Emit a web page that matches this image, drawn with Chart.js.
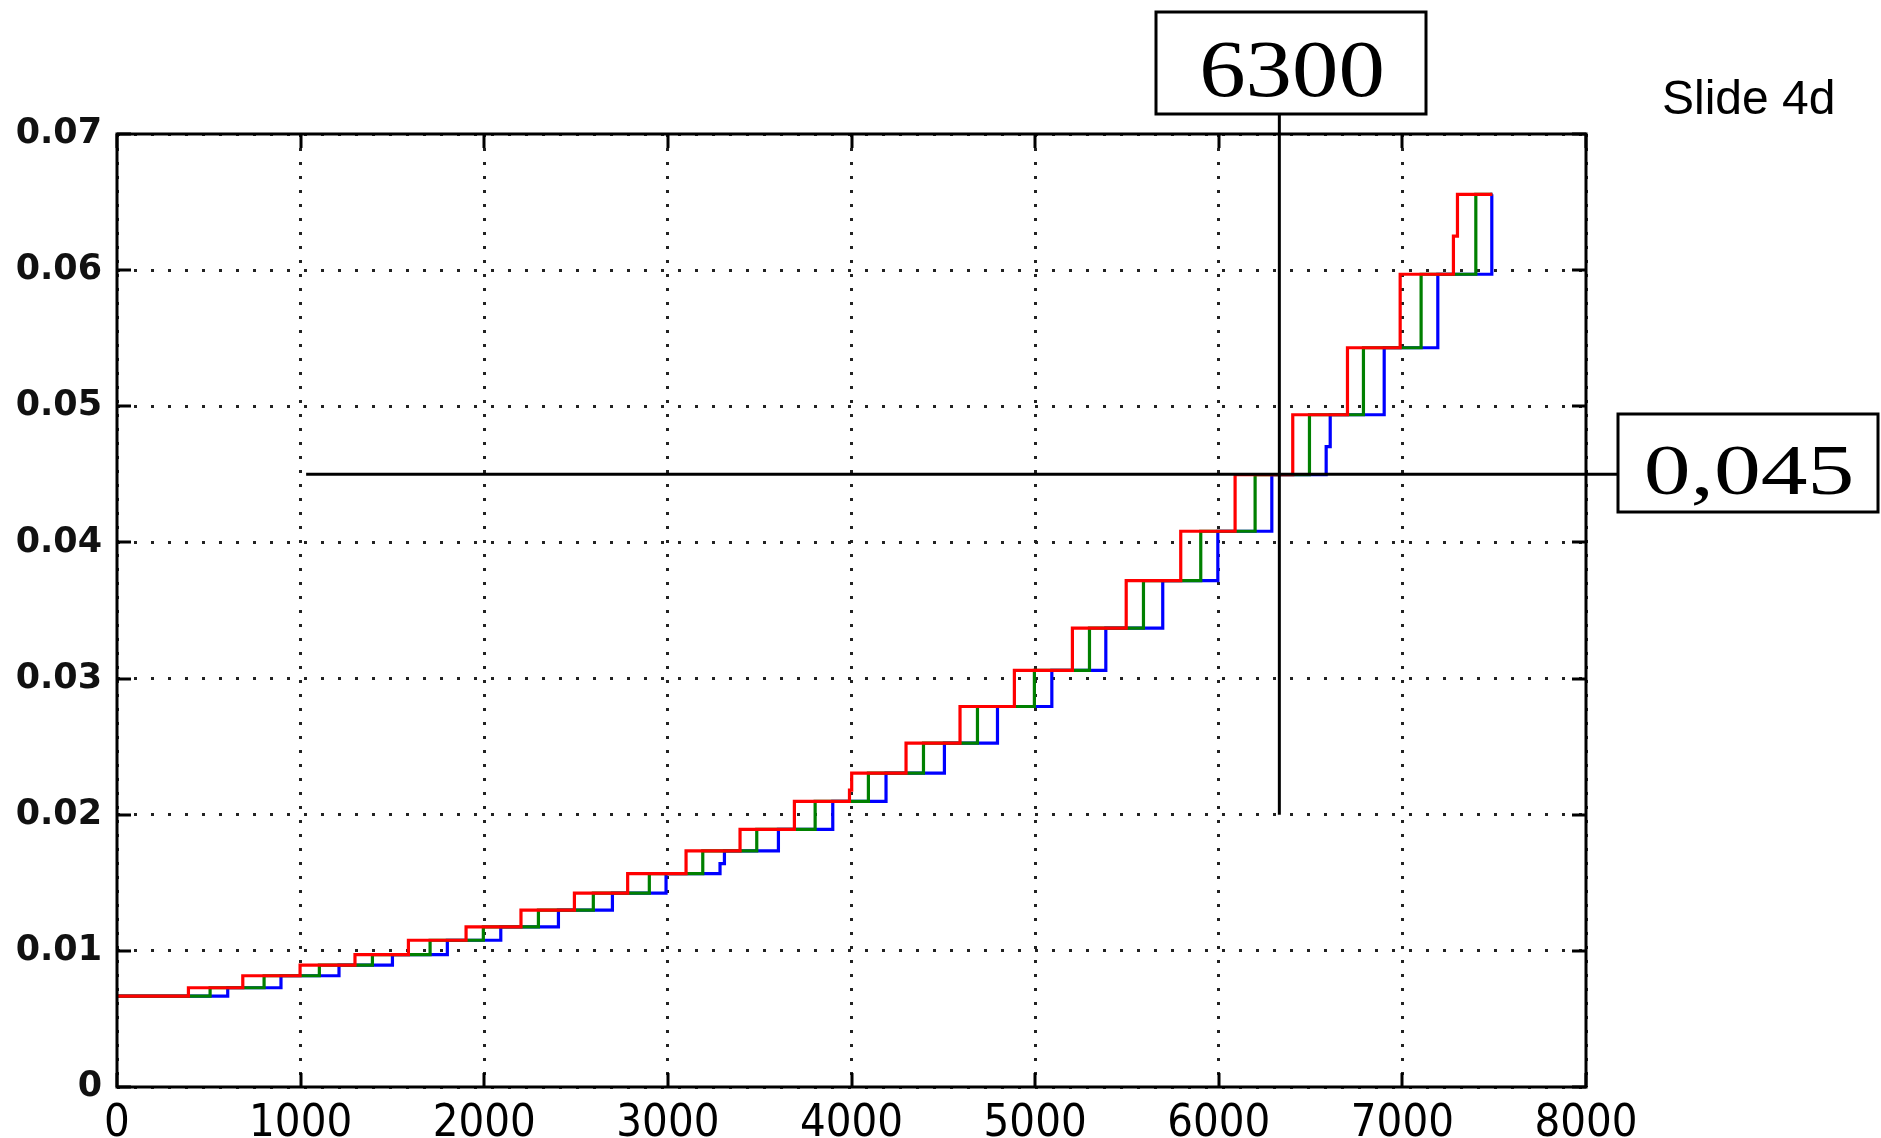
<!DOCTYPE html>
<html><head><meta charset="utf-8">
<script src="https://cdn.jsdelivr.net/npm/chart.js@4.4.0/dist/chart.umd.min.js"></script>
<style>html,body{margin:0;padding:0;background:#fff;} canvas{display:block;}</style>
</head><body>
<canvas id="c" width="1881" height="1138"></canvas>
<script>
// ---- data ----
const xTickLabels = ['0','1000','2000','3000','4000','5000','6000','7000','8000'];
const yTickLabels = ['0','0.01','0.02','0.03','0.04','0.05','0.06','0.07'];

const redX = [0, 389, 685, 997, 1296, 1587, 1901, 2200, 2491, 2781, 3099, 3393, 3689, 3989, 4001, 4297, 4591, 4887, 5203, 5496, 5793, 6089, 6403, 6701, 6988, 7278, 7300, 7490];
const redY = [0.00668, 0.00729, 0.00817, 0.00895, 0.00973, 0.01078, 0.01176, 0.01299, 0.01424, 0.01568, 0.01734, 0.01893, 0.02098, 0.0218, 0.02306, 0.02526, 0.02795, 0.0306, 0.0337, 0.0372, 0.04082, 0.04497, 0.04938, 0.0543, 0.0597, 0.0625, 0.06557, 0.06557];

const greenX = [0, 507, 801, 1102, 1391, 1705, 1995, 2295, 2594, 2899, 3190, 3484, 3802, 4092, 4392, 4686, 4996, 5296, 5590, 5902, 6198, 6494, 6788, 7102, 7400, 7490];
const greenY = [0.00668, 0.00729, 0.00817, 0.00895, 0.00973, 0.01078, 0.01176, 0.01299, 0.01424, 0.01568, 0.01734, 0.01893, 0.02098, 0.02306, 0.02526, 0.02795, 0.0306, 0.0337, 0.0372, 0.04082, 0.04497, 0.04938, 0.0543, 0.0597, 0.06557, 0.06557];

const blueX = [0, 603, 893, 1209, 1500, 1799, 2090, 2404, 2698, 2990, 3284, 3308, 3602, 3898, 4188, 4506, 4795, 5091, 5385, 5695, 5995, 6289, 6585, 6607, 6901, 7193, 7487, 7490];
const blueY = [0.00668, 0.00729, 0.00817, 0.00895, 0.00973, 0.01078, 0.01176, 0.01299, 0.01424, 0.01568, 0.01641, 0.01734, 0.01893, 0.02098, 0.02306, 0.02526, 0.02795, 0.0306, 0.0337, 0.0372, 0.04082, 0.04497, 0.04703, 0.04938, 0.0543, 0.0597, 0.06557, 0.06557];

// annotation values
const markX = 6330, markXFromY = 0.02, markXLabel = '6300';
const markY = 0.045, markYFromX = 1030, markYLabel = '0,045';
const slideTitle = 'Slide 4d';

function pts(xs, ys){ return xs.map((x,i)=>({x:x, y:ys[i]})); }

const decor = {
  id:'decor',
  beforeDraw(chart){
    const ctx = chart.ctx;
    ctx.save(); ctx.fillStyle='#fff'; ctx.fillRect(0,0,chart.width,chart.height); ctx.restore();
  },
  afterDatasetsDraw(chart){
    const ctx = chart.ctx, a = chart.chartArea;
    const xs = chart.scales.x, ys = chart.scales.y;
    ctx.save();
    ctx.strokeStyle = '#000';
    ctx.lineWidth = 3;
    ctx.lineCap = 'butt';
    // inward ticks
    const tl = 14;
    xs.ticks.forEach(t=>{
      const px = Math.round(xs.getPixelForValue(t.value));
      ctx.beginPath();
      ctx.moveTo(px, a.bottom); ctx.lineTo(px, a.bottom - tl);
      ctx.moveTo(px, a.top); ctx.lineTo(px, a.top + tl);
      ctx.stroke();
    });
    ys.ticks.forEach(t=>{
      const py = Math.round(ys.getPixelForValue(t.value));
      ctx.beginPath();
      ctx.moveTo(a.left, py); ctx.lineTo(a.left + tl, py);
      ctx.moveTo(a.right, py); ctx.lineTo(a.right - tl, py);
      ctx.stroke();
    });
    // frame
    ctx.strokeRect(a.left, a.top, a.right - a.left, a.bottom - a.top);

    // annotation lines
    const vx = xs.getPixelForValue(markX);
    const hy = ys.getPixelForValue(markY);
    const box1 = {x:1156, y:12, w:270, h:102};
    const box2 = {x:1618, y:414, w:260, h:98};
    ctx.lineWidth = 3;
    ctx.beginPath();
    ctx.moveTo(vx, ys.getPixelForValue(markXFromY));
    ctx.lineTo(vx, box1.y + box1.h);
    ctx.stroke();
    ctx.beginPath();
    ctx.moveTo(xs.getPixelForValue(markYFromX), hy);
    ctx.lineTo(box2.x, hy);
    ctx.stroke();
    // boxes
    ctx.fillStyle = '#fff';
    [box1, box2].forEach(b=>{
      ctx.fillRect(b.x, b.y, b.w, b.h);
      ctx.strokeRect(b.x, b.y, b.w, b.h);
    });
    // labels
    ctx.fillStyle = '#000';
    ctx.textAlign = 'center';
    ctx.textBaseline = 'alphabetic';
    ctx.font = '80px "Liberation Serif", "Times New Roman", serif';
    ctx.save();
    ctx.translate(1292, 96); ctx.scale(1.16, 1);
    ctx.fillText(markXLabel, 0, 0);
    ctx.restore();
    ctx.font = '72px "Liberation Serif", "Times New Roman", serif';
    ctx.save();
    ctx.translate(1749, 494); ctx.scale(1.3, 1);
    ctx.fillText(markYLabel, 0, 0);
    ctx.restore();
    // slide title
    ctx.textAlign = 'left';
    ctx.font = '48px "Liberation Sans", Arial, sans-serif';
    ctx.fillText(slideTitle, 1662, 114);
    ctx.restore();
  }
};

new Chart(document.getElementById('c'), {
  type:'line',
  data:{
    datasets:[
      {label:'blue', data:pts(blueX, blueY), borderColor:'#0000ff', borderWidth:3.2, stepped:true, pointRadius:0, fill:false, order:3},
      {label:'green', data:pts(greenX, greenY), borderColor:'#008000', borderWidth:3.2, stepped:true, pointRadius:0, fill:false, order:2},
      {label:'red', data:pts(redX, redY), borderColor:'#ff0000', borderWidth:3.2, stepped:true, pointRadius:0, fill:false, order:1}
    ]
  },
  options:{
    responsive:false,
    devicePixelRatio:1,
    animation:false,
    events:[],
    layout:{padding:{left:0, top:134, right:295, bottom:0}},
    plugins:{legend:{display:false}, tooltip:{enabled:false}},
    scales:{
      x:{
        type:'linear', min:0, max:8000,
        afterFit(s){ s.height = 51; },
        ticks:{stepSize:1000, color:'#000', padding:10,
          font:{family:"'Liberation Sans Narrow', 'DejaVu Sans Condensed', sans-serif", size:45},
          maxRotation:0, autoSkip:false,
          callback:(v,i)=>xTickLabels[i]},
        grid:{color:'#222', lineWidth:3, drawTicks:false},
        border:{display:false, dash:[3,11]}
      },
      y:{
        type:'linear', min:0, max:0.07,
        afterFit(s){ s.width = 117; },
        ticks:{stepSize:0.01, color:'#111', padding:15,
          font:{family:"'DejaVu Sans', sans-serif", size:35, weight:'bold'},
          autoSkip:false,
          callback:(v,i)=>yTickLabels[i]},
        grid:{color:'#222', lineWidth:3, drawTicks:false},
        border:{display:false, dash:[3,14]}
      }
    }
  },
  plugins:[decor]
});
</script>
</body></html>
